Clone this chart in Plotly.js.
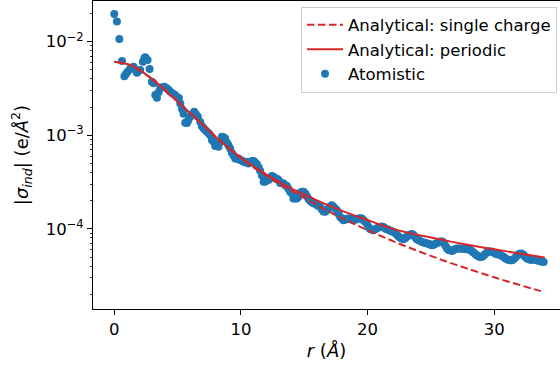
<!DOCTYPE html>
<html>
<head>
<meta charset="utf-8">
<script src="https://cdn.plot.ly/plotly-3.0.1.min.js"></script>
<style>html,body{margin:0;padding:0;background:#fff;}#chart{width:560px;height:369px;}</style>
</head>
<body>
<div id="chart"></div>
<script>
// Analytical curves (r in Å, |sigma_ind| in e/Å^2)
var rAnalytic = [0,1,2,3,4,5,6,7,8,9,10,11,12,13,14,15,16,17,18,19,20,21,22,23,24,25,26,27,28,29,30,31,32,33,34];
var sigmaSingle = [6.10e-3,5.77e-3,4.95e-3,3.96e-3,3.03e-3,2.29e-3,1.71e-3,1.29e-3,9.62e-4,7.36e-4,5.70e-4,4.55e-4,3.71e-4,3.05e-4,2.55e-4,2.14e-4,1.80e-4,1.52e-4,1.30e-4,1.12e-4,9.70e-5,8.45e-5,7.41e-5,6.53e-5,5.79e-5,5.15e-5,4.60e-5,4.12e-5,3.72e-5,3.36e-5,3.04e-5,2.76e-5,2.52e-5,2.30e-5,2.11e-5];
var sigmaPeriodic = [6.12e-3,5.79e-3,4.98e-3,3.98e-3,3.05e-3,2.30e-3,1.72e-3,1.30e-3,9.66e-4,7.41e-4,5.78e-4,4.65e-4,3.82e-4,3.18e-4,2.70e-4,2.33e-4,2.02e-4,1.77e-4,1.556e-4,1.387e-4,1.245e-4,1.109e-4,1.00e-4,9.23e-5,8.61e-5,8.09e-5,7.59e-5,7.13e-5,6.73e-5,6.37e-5,6.05e-5,5.75e-5,5.47e-5,5.20e-5,4.94e-5];

// Atomistic points
var rAtom = [0.0,0.21,0.40,0.61,0.80,0.92,1.05,1.25,1.40,1.52,1.65,1.79,1.92,2.05,2.26,2.38,2.45,2.63,2.79,2.97,3.10,3.24,3.37,3.50,3.63,3.80,3.95,4.16,4.30,4.42,4.60,4.81,5.00,5.10,5.21,5.35,5.47,5.60,5.74,5.85,6.00,6.15,6.31,6.45,6.60,6.79,6.92,7.05,7.18,7.32,7.45,7.58,7.71,7.84,7.97,8.10,8.23,8.36,8.50,8.63,8.76,8.90,9.02,9.15,9.29,9.42,9.55,9.70,9.81,9.94,10.07,10.20,10.35,10.47,10.60,10.75,10.88,11.00,11.13,11.26,11.40,11.52,11.66,11.79,11.92,12.05,12.18,12.31,12.45,12.57,12.71,12.84,12.97,13.10,13.23,13.36,13.50,13.63,13.76,13.89,14.03,14.15,14.29,14.42,14.55,14.68,14.82,14.94,15.08,15.20,15.34,15.47,15.60,15.73,15.86,16.00,16.13,16.26,16.39,16.52,16.65,16.79,16.91,17.05,17.18,17.31,17.44,17.58,17.71,17.84,17.97,18.10,18.23,18.36,18.50,18.63,18.76,18.89,19.02,19.15,19.28,19.42,19.55,19.68,19.81,19.94,20.07,20.20,20.34,20.47,20.60,20.73,20.87,21.00,21.13,21.26,21.39,21.52,21.65,21.78,21.92,22.05,22.18,22.31,22.44,22.57,22.70,22.83,22.97,23.10,23.23,23.36,23.50,23.63,23.76,23.89,24.02,24.15,24.30,24.44,24.57,24.70,24.84,24.97,25.10,25.23,25.36,25.50,25.63,25.76,25.90,26.02,26.15,26.28,26.41,26.55,26.68,26.81,26.94,27.07,27.21,27.34,27.47,27.60,27.73,27.86,28.00,28.13,28.26,28.39,28.52,28.65,28.78,28.92,29.05,29.18,29.31,29.44,29.57,29.70,29.84,29.97,30.10,30.23,30.36,30.50,30.63,30.76,30.89,31.02,31.15,31.28,31.41,31.54,31.68,31.81,31.94,32.07,32.20,32.33,32.46,32.60,32.73,32.86,32.99,33.12,33.25,33.38,33.52,33.65,33.78,33.91];
var sigmaAtom = [1.98e-2,1.64e-2,1.07e-2,6.22e-3,4.27e-3,4.52e-3,4.78e-3,5.13e-3,5.19e-3,5.41e-3,5.01e-3,4.67e-3,4.90e-3,4.98e-3,6.11e-3,6.68e-3,6.81e-3,6.37e-3,5.11e-3,3.73e-3,3.59e-3,2.69e-3,2.52e-3,2.88e-3,3.18e-3,3.27e-3,3.30e-3,3.18e-3,3.05e-3,2.92e-3,2.82e-3,2.69e-3,2.54e-3,2.51e-3,2.19e-3,1.91e-3,1.70e-3,1.36e-3,1.35e-3,1.45e-3,1.58e-3,1.68e-3,1.78e-3,1.68e-3,1.58e-3,1.39e-3,1.25e-3,1.19e-3,1.14e-3,1.09e-3,1.05e-3,1.00e-3,8.89e-4,8.51e-4,7.67e-4,7.85e-4,7.53e-4,8.51e-4,9.64e-4,9.55e-4,9.27e-4,8.32e-4,7.85e-4,7.24e-4,6.46e-4,6.03e-4,5.66e-4,5.62e-4,5.66e-4,5.43e-4,5.37e-4,5.21e-4,5.13e-4,5.21e-4,5.01e-4,5.13e-4,5.31e-4,5.31e-4,5.13e-4,4.90e-4,4.57e-4,4.17e-4,3.72e-4,3.18e-4,3.18e-4,3.39e-4,3.32e-4,3.51e-4,3.67e-4,3.60e-4,3.46e-4,3.43e-4,3.32e-4,3.09e-4,3.09e-4,3.05e-4,2.93e-4,2.88e-4,2.66e-4,2.49e-4,2.39e-4,2.11e-4,2.11e-4,2.11e-4,2.20e-4,2.43e-4,2.49e-4,2.49e-4,2.39e-4,2.24e-4,2.09e-4,2.00e-4,1.93e-4,1.88e-4,1.87e-4,1.80e-4,1.76e-4,1.72e-4,1.62e-4,1.53e-4,1.52e-4,1.58e-4,1.65e-4,1.74e-4,1.79e-4,1.72e-4,1.65e-4,1.58e-4,1.45e-4,1.34e-4,1.29e-4,1.24e-4,1.26e-4,1.28e-4,1.29e-4,1.28e-4,1.26e-4,1.24e-4,1.26e-4,1.27e-4,1.29e-4,1.30e-4,1.29e-4,1.24e-4,1.19e-4,1.14e-4,1.05e-4,1.00e-4,9.77e-5,9.68e-5,9.89e-5,1.01e-4,1.04e-4,1.05e-4,1.06e-4,1.05e-4,1.01e-4,9.89e-5,9.77e-5,9.55e-5,9.44e-5,9.29e-5,9.02e-5,8.71e-5,8.32e-5,8.04e-5,7.89e-5,7.76e-5,7.94e-5,8.22e-5,8.51e-5,8.71e-5,8.81e-5,8.61e-5,8.13e-5,7.76e-5,7.59e-5,7.41e-5,7.26e-5,7.16e-5,7.08e-5,7.00e-5,6.92e-5,6.76e-5,6.70e-5,6.76e-5,6.92e-5,7.08e-5,7.24e-5,7.33e-5,7.33e-5,7.08e-5,6.61e-5,6.17e-5,5.96e-5,5.86e-5,5.82e-5,5.96e-5,6.10e-5,6.17e-5,6.17e-5,6.17e-5,6.14e-5,6.10e-5,6.10e-5,6.05e-5,6.03e-5,5.96e-5,5.75e-5,5.56e-5,5.37e-5,5.19e-5,5.07e-5,5.01e-5,5.04e-5,5.19e-5,5.43e-5,5.62e-5,5.73e-5,5.75e-5,5.69e-5,5.56e-5,5.43e-5,5.37e-5,5.31e-5,5.24e-5,5.13e-5,5.01e-5,4.84e-5,4.73e-5,4.65e-5,4.61e-5,4.62e-5,4.73e-5,4.95e-5,5.19e-5,5.37e-5,5.47e-5,5.43e-5,5.25e-5,5.01e-5,4.84e-5,4.73e-5,4.68e-5,4.68e-5,4.70e-5,4.68e-5,4.62e-5,4.57e-5,4.52e-5,4.47e-5,4.44e-5];

var xTicks = [0, 10, 20, 30];
var yTickVals = [1e-4, 1e-3, 1e-2];
var yTickText = ['10<sup>\u22124</sup>', '10<sup>\u22123</sup>', '10<sup>\u22122</sup>'];
var yMinorVals = [2e-5,3e-5,4e-5,5e-5,6e-5,7e-5,8e-5,9e-5,2e-4,3e-4,4e-4,5e-4,6e-4,7e-4,8e-4,9e-4,2e-3,3e-3,4e-3,5e-3,6e-3,7e-3,8e-3,9e-3,2e-2];

var traces = [
  {x: rAtom, y: sigmaAtom, type: 'scatter', mode: 'markers', name: 'Atomistic',
   marker: {color: '#1f77b4', size: 8, line: {width: 0}}, legendrank: 3},
  {x: rAnalytic, y: sigmaSingle, type: 'scatter', mode: 'lines', name: 'Analytical: single charge',
   line: {color: '#d62728', width: 2, dash: '7.5px,3.5px', shape: 'spline'}, legendrank: 1},
  {x: rAnalytic, y: sigmaPeriodic, type: 'scatter', mode: 'lines', name: 'Analytical: periodic',
   line: {color: '#d62728', width: 2, shape: 'spline'}, legendrank: 2}
];

var layout = {
  width: 560, height: 369,
  margin: {l: 93, r: 0, t: 1, b: 60},
  paper_bgcolor: '#fff', plot_bgcolor: '#fff',
  font: {family: 'DejaVu Sans', size: 16.5, color: '#000'},
  showlegend: true,
  legend: {x: 0.9936, y: 0.982, xanchor: 'right', yanchor: 'top',
    bgcolor: 'rgba(255,255,255,0.8)', bordercolor: '#cccccc', borderwidth: 1,
    font: {family: 'DejaVu Sans', size: 16.5, color: '#000'}, traceorder: 'normal',
    tracegroupgap: 0, itemwidth: 36},
  xaxis: {range: [-1.68, 35.2], tickvals: xTicks, ticktext: xTicks.map(String),
    ticks: 'outside', ticklen: 5, tickwidth: 1, tickcolor: '#000',
    tickfont: {size: 16.5},
    showline: true, linecolor: '#000', linewidth: 1, mirror: true,
    showgrid: false, zeroline: false,
    title: {text: '<i>r</i> (<i>Å</i>)', font: {size: 18}, standoff: 6}},
  yaxis: {type: 'log', range: [-4.856, -1.565], tickvals: yTickVals, ticktext: yTickText,
    ticks: 'outside', ticklen: 5, tickwidth: 1, tickcolor: '#000',
    tickfont: {size: 16.5},
    minor: {tickvals: yMinorVals, ticks: 'outside', ticklen: 2.5, tickwidth: 0.8, tickcolor: '#000', showgrid: false},
    showline: true, linecolor: '#000', linewidth: 1, mirror: false,
    showgrid: false, zeroline: false,
    title: {text: '|<i>σ<sub>ind</sub></i>| (e/<i>Å</i><sup>2</sup>)', font: {size: 18}, standoff: 12}}
};

Plotly.newPlot('chart', traces, layout, {staticPlot: true, displayModeBar: false});
</script>
</body>
</html>
